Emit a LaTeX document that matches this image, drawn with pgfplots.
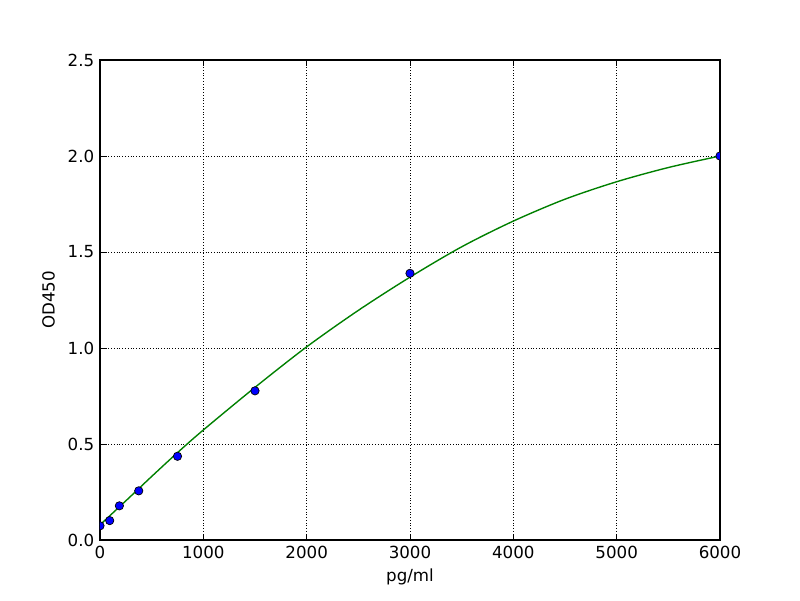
\documentclass[border=0pt]{standalone}
\usepackage{fontspec}
\setmainfont{DejaVu Sans}
\usepackage{pgfplots}
\pgfplotsset{compat=1.18}
\begin{document}
\fontsize{12}{14}\selectfont
\begin{tikzpicture}
\useasboundingbox (-72pt,-43.2pt) rectangle (504pt,388.8pt);
\begin{axis}[
  at={(0,0)}, anchor=south west,
  scale only axis, width=446.4pt, height=345.6pt,
  xmin=0, xmax=6000, ymin=0, ymax=2.5,
  xtick={0,1000,...,6000}, ytick={0,0.5,...,2.5},
  /pgf/number format/assume math mode=true,
  /pgf/number format/set thousands separator={},
  yticklabel style={/pgf/number format/fixed,/pgf/number format/fixed zerofill,/pgf/number format/precision=1},
  tick align=inside, major tick length=4pt,
  tick style={black, line width=0.5pt},
  axis line style={black, line width=1pt},
  grid=major, major grid style={black, line width=0.5pt, dash pattern=on 0.5pt off 1.5pt},
  xlabel={pg/ml}, ylabel={OD450},
  xlabel style={yshift=1pt},
  ylabel style={yshift=1pt},
  clip marker paths=true,
  font=\fontsize{12}{14}\selectfont,
]
\addplot[color={rgb,1:red,0;green,0.5;blue,0}, line width=1pt, smooth, no marks] coordinates {
(0,0.079) (250,0.204) (500,0.331) (750,0.455) (1000,0.573) (1500,0.795) (2000,1.006) (2500,1.196) (3000,1.369) (3500,1.527) (4000,1.661) (4500,1.775) (5000,1.866) (5500,1.940) (6000,2.000)
};
\addplot[only marks, mark=*, mark size=3pt, mark options={fill=blue, draw=black, line width=0.5pt}] coordinates {
(0,0.074) (93.75,0.101) (187.5,0.178) (375,0.256) (750,0.436) (1500,0.777) (3000,1.389) (6000,2.0)
};
\end{axis}
\end{tikzpicture}
\end{document}
